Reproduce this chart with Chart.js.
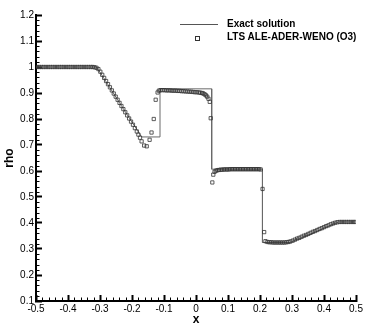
<!DOCTYPE html>
<html>
<head>
<meta charset="utf-8">
<script src="https://cdn.jsdelivr.net/npm/chart.js@4.4.1/dist/chart.umd.min.js"></script>
<style>
  body { margin: 0; background: #fff; }
  #wrap { position: relative; width: 374px; height: 332px; }
  .leg { position: absolute; font: bold 10px "Liberation Sans", Arial, sans-serif; color: #000; white-space: nowrap; line-height: 12px; }
  .leg-line { position: absolute; left: 180px; top: 24px; width: 38px; height: 0; border-top: 1px solid #555; }
  .leg-box { position: absolute; left: 195px; top: 36px; width: 3px; height: 3px; border: 0.8px solid #333; }
</style>
</head>
<body>
<div id="wrap">
  <canvas id="grafico" width="374" height="332"></canvas>
  <div class="leg-line"></div>
  <div class="leg" style="left:227px; top:18px;">Exact solution</div>
  <div class="leg-box"></div>
  <div class="leg" style="left:227px; top:31px;">LTS ALE-ADER-WENO (O3)</div>
</div>
<script>
// ===== DATOS =====
// solucion exacta (polilinea)
const exactX = [-0.5, -0.311, -0.29, -0.26, -0.23, -0.20, -0.17, -0.1125, -0.1125, 0.049, 0.049, 0.2077, 0.2077, 0.294, 0.33, 0.37, 0.41, 0.4456, 0.5];
const exactY = [1.0, 1.0, 0.961, 0.903, 0.845, 0.788, 0.731, 0.731, 0.916, 0.916, 0.607, 0.607, 0.325, 0.325, 0.344, 0.364, 0.385, 0.404, 0.404];

// esquema numerico (cuadros)
const numX = [
  -0.497, -0.490, -0.483, -0.476, -0.469, -0.462, -0.455, -0.448, -0.441, -0.434,
  -0.427, -0.420, -0.413, -0.406, -0.399, -0.392, -0.385, -0.378, -0.371, -0.364,
  -0.357, -0.350, -0.343, -0.336, -0.329, -0.323, -0.317, -0.311, -0.305, -0.299,
  -0.293, -0.287, -0.281, -0.275, -0.269, -0.263, -0.257, -0.251, -0.245, -0.239,
  -0.233, -0.227, -0.221, -0.215, -0.209, -0.203, -0.197, -0.191, -0.185, -0.180,
  -0.175, -0.170, -0.162, -0.154, -0.145, -0.139, -0.132, -0.126, -0.120, -0.116,
  -0.111, -0.105, -0.099, -0.093, -0.087, -0.081, -0.075, -0.069, -0.063, -0.057,
  -0.051, -0.045, -0.039, -0.033, -0.027, -0.021, -0.015, -0.009, -0.003, 0.003,
  0.009, 0.014, 0.019, 0.023, 0.027, 0.031, 0.035, 0.039, 0.043, 0.046,
  0.051, 0.054, 0.058, 0.062, 0.067, 0.072, 0.077, 0.082, 0.087, 0.092,
  0.097, 0.102, 0.107, 0.112, 0.117, 0.122, 0.127, 0.132, 0.137, 0.142,
  0.147, 0.152, 0.157, 0.162, 0.167, 0.172, 0.177, 0.182, 0.187, 0.192,
  0.197, 0.202, 0.208, 0.213, 0.217, 0.223, 0.229, 0.235, 0.241, 0.247,
  0.253, 0.259, 0.265, 0.271, 0.277, 0.283, 0.289, 0.295, 0.302, 0.309,
  0.316, 0.323, 0.330, 0.337, 0.344, 0.351, 0.358, 0.365, 0.372, 0.379,
  0.386, 0.393, 0.400, 0.407, 0.414, 0.421, 0.428, 0.435, 0.442, 0.449,
  0.456, 0.463, 0.470, 0.477, 0.484, 0.491, 0.497
];
const numY = [
  1.000, 1.000, 1.000, 1.000, 1.000, 1.000, 1.000, 1.000, 1.000, 1.000,
  1.000, 1.000, 1.000, 1.000, 1.000, 1.000, 1.000, 1.000, 1.000, 1.000,
  1.000, 1.000, 1.000, 1.000, 1.000, 1.000, 0.999, 0.997, 0.992, 0.982,
  0.970, 0.958, 0.946, 0.934, 0.922, 0.910, 0.898, 0.886, 0.874, 0.862,
  0.850, 0.838, 0.826, 0.814, 0.802, 0.790, 0.778, 0.765, 0.752, 0.740,
  0.728, 0.714, 0.698, 0.695, 0.720, 0.748, 0.800, 0.874, 0.902, 0.909,
  0.911, 0.911, 0.911, 0.910, 0.910, 0.910, 0.909, 0.909, 0.909, 0.908,
  0.908, 0.907, 0.907, 0.906, 0.906, 0.905, 0.905, 0.904, 0.903, 0.903,
  0.902, 0.901, 0.900, 0.898, 0.895, 0.891, 0.886, 0.878, 0.866, 0.803,
  0.556, 0.586, 0.597, 0.601, 0.603, 0.604, 0.605, 0.605, 0.606, 0.606,
  0.606, 0.606, 0.607, 0.607, 0.607, 0.607, 0.607, 0.607, 0.607, 0.607,
  0.607, 0.607, 0.607, 0.607, 0.607, 0.607, 0.607, 0.607, 0.607, 0.607,
  0.607, 0.606, 0.531, 0.365, 0.330, 0.327, 0.326, 0.326, 0.325, 0.325,
  0.325, 0.325, 0.325, 0.325, 0.325, 0.326, 0.327, 0.329, 0.332, 0.336,
  0.340, 0.343, 0.347, 0.351, 0.354, 0.358, 0.362, 0.366, 0.369, 0.373,
  0.377, 0.380, 0.384, 0.388, 0.391, 0.395, 0.398, 0.401, 0.403, 0.404,
  0.404, 0.404, 0.404, 0.404, 0.404, 0.404, 0.404
];

// ejes
const X_MIN = -0.5, X_MAX = 0.5, X_STEP = 0.1;
const Y_MIN = 0.1, Y_MAX = 1.2, Y_STEP = 0.1;
const FONT = '"Liberation Sans", Arial, sans-serif';

const fmt = v => String(Number(v.toFixed(1)));

// ticks menores (5 subdivisiones), hacia dentro como en Tecplot
const minorTicks = {
  id: 'minorTicks',
  afterDraw(chart) {
    const { ctx, chartArea, scales } = chart;
    ctx.save();
    ctx.strokeStyle = '#000';
    ctx.lineWidth = 1;
    ctx.beginPath();
    for (let i = 0; i <= 50; i++) {
      if (i % 5 === 0) continue;
      const px = Math.round(scales.x.getPixelForValue(X_MIN + i * 0.02)) + 0.5;
      ctx.moveTo(px, chartArea.bottom);
      ctx.lineTo(px, chartArea.bottom - 3.5);
    }
    for (let i = 0; i <= 55; i++) {
      if (i % 5 === 0) continue;
      const py = Math.round(scales.y.getPixelForValue(Y_MIN + i * 0.02)) + 0.5;
      ctx.moveTo(chartArea.left, py);
      ctx.lineTo(chartArea.left + 3.5, py);
    }
    ctx.stroke();
    ctx.restore();
  }
};

const ejeComun = {
  type: 'linear',
  border: { display: true, color: '#000', width: 2 },
  grid: { drawOnChartArea: false, drawTicks: true, tickLength: -6, tickWidth: 2, tickColor: '#000' }
};

new Chart(document.getElementById('grafico'), {
  type: 'scatter',
  data: {
    datasets: [
      {
        label: 'Exact solution',
        data: exactX.map((x, i) => ({ x, y: exactY[i] })),
        showLine: true,
        borderColor: '#6a6a6a',
        borderWidth: 1,
        pointRadius: 0,
        tension: 0,
        order: 2
      },
      {
        label: 'LTS ALE-ADER-WENO (O3)',
        data: numX.map((x, i) => ({ x, y: numY[i] })),
        showLine: false,
        pointStyle: 'rect',
        pointRadius: 2.3,
        pointBorderWidth: 0.8,
        pointBorderColor: '#333',
        pointBackgroundColor: 'rgba(255,255,255,0)',
        order: 1
      }
    ]
  },
  options: {
    responsive: false,
    animation: false,
    layout: { padding: { left: 0, right: 18, top: 15, bottom: 0 } },
    plugins: { legend: { display: false }, tooltip: { enabled: false } },
    scales: {
      x: {
        ...ejeComun,
        position: 'bottom',
        min: X_MIN, max: X_MAX,
        ticks: { stepSize: X_STEP, color: '#000', padding: 8, maxRotation: 0, font: { family: FONT, size: 10 }, callback: fmt },
        title: { display: true, text: 'x', color: '#000', font: { family: FONT, size: 12, weight: 'bold' }, padding: { top: 0, bottom: 5 } },
        afterFit: s => { s.height = 31; }
      },
      y: {
        ...ejeComun,
        position: 'left',
        min: Y_MIN, max: Y_MAX,
        ticks: { stepSize: Y_STEP, color: '#000', padding: 8, font: { family: FONT, size: 10 }, callback: fmt },
        title: { display: true, text: 'rho', color: '#000', font: { family: FONT, size: 12, weight: 'bold' }, padding: { top: 2, bottom: 0 } },
        afterFit: s => { s.width = 36; }
      }
    }
  },
  plugins: [minorTicks]
});
</script>
</body>
</html>
